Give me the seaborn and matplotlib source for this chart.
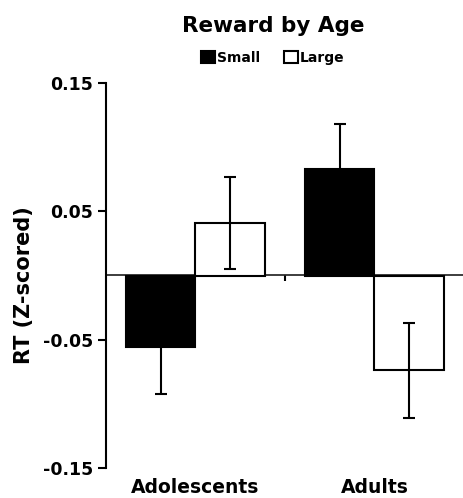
import pandas as pd
import seaborn as sns
import matplotlib.pyplot as plt

# values
ages = ["Adolescents", "Adults"]
rewards = ["Small", "Large"]
rt_small = [-0.056, 0.083]
rt_large = [0.041, -0.074]
se_small = [0.036, 0.035]
se_large = [0.036, 0.037]
y_ticks = [0.15, 0.05, -0.05, -0.15]


def main():
    sns.set_theme(style="white")
    plt.rcParams["font.family"] = ["DejaVu Sans"]
    for key in ["text.color", "axes.labelcolor", "xtick.color", "ytick.color"]:
        plt.rcParams[key] = "black"

    df = pd.DataFrame({
        "age": ages * 2,
        "reward": ["Small"] * 2 + ["Large"] * 2,
        "rt": rt_small + rt_large,
    })
    errs = {"Small": se_small, "Large": se_large}

    fig = plt.figure(figsize=(4.64, 4.98), dpi=100)
    ax = fig.add_axes([106 / 464, 30 / 498, 358 / 464, 385 / 498])

    sns.barplot(
        data=df, x="age", y="rt", hue="reward",
        order=ages, hue_order=rewards,
        palette=["black", "white"], edgecolor="black", linewidth=1.5,
        width=0.78, errorbar=None, ax=ax,
    )

    # error bars on top of the bars seaborn drew
    for level, cont in zip(rewards, ax.containers):
        for bar, e in zip(cont, errs[level]):
            ax.errorbar(bar.get_x() + bar.get_width() / 2, bar.get_height(),
                        yerr=e, color="black", lw=1.5, capsize=4.5,
                        capthick=1.5, zorder=1)

    ax.set_ylim(-0.15, 0.15)
    ax.set_xlim(-0.5, 1.5)
    ax.set_yticks(y_ticks)
    ax.set_yticklabels([f"{t:.2f}" for t in y_ticks], fontsize=12.5, fontweight="bold")
    ax.tick_params(axis="y", direction="out", length=5.5, width=1.5, left=True, pad=3.5)
    ax.tick_params(axis="x", length=0, pad=7)
    ax.set_xticks(range(len(ages)))
    ax.set_xticklabels(ages, fontsize=13.5, fontweight="bold")

    for side in ["top", "right", "bottom"]:
        ax.spines[side].set_visible(False)
    ax.spines["left"].set_color("black")
    ax.spines["left"].set_linewidth(1.5)

    # zero line with the category divider tick
    zero = ax.secondary_xaxis(0.5)
    zero.set_xticks([0.5])
    zero.set_xticklabels([])
    zero.tick_params(direction="in", length=4, width=1.5, color="black")
    zero.spines["bottom"].set_color("black")
    zero.spines["bottom"].set_linewidth(1.5)

    ax.set_xlabel("")
    ax.set_ylabel("RT (Z-scored)", fontsize=15, fontweight="bold")
    ax.yaxis.set_label_coords(-0.20, 0.475)

    fig.text(0.588, 0.948, "Reward by Age", ha="center", va="center",
             fontsize=15.5, fontweight="bold")

    handles, labels = ax.get_legend_handles_labels()
    ax.legend(handles, labels, loc="center", bbox_to_anchor=(0.588, 0.884),
              bbox_transform=fig.transFigure, ncol=2, frameon=False,
              prop={"size": 10, "weight": "bold"}, handlelength=1.0,
              handleheight=0.95, handletextpad=0.15, columnspacing=1.7)

    fig.savefig("out.png", dpi=100)


if __name__ == "__main__":
    main()
